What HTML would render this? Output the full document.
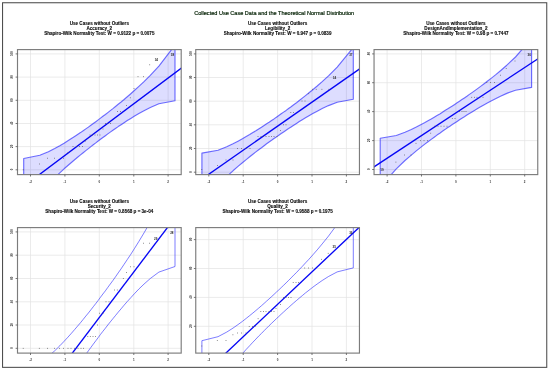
<!DOCTYPE html>
<html><head><meta charset="utf-8"><title>Q-Q plots</title>
<style>
html,body{margin:0;padding:0;background:#fff;}
svg{display:block}
text{font-family:"Liberation Sans",Arial,sans-serif;}
.t{font-size:5.55px;fill:#021f02;stroke:#021f02;stroke-width:0.18;text-anchor:middle;}
.s{font-size:4.58px;font-weight:bold;fill:#0a0a0a;stroke:#0a0a0a;stroke-width:0.1;text-anchor:middle;}
.k{font-size:3px;font-weight:bold;fill:#333;text-anchor:middle;}
.l{font-size:3px;font-weight:bold;fill:#2a2a2a;text-anchor:middle;}
.g{stroke:#e3e3e3;stroke-width:0.7;fill:none;}
.bx{stroke:#7c7c7c;stroke-width:1.15;fill:none;}
.tk{stroke:#555;stroke-width:0.8;fill:none;}
.fit{stroke:#0505f5;stroke-width:1.35;fill:none;}
.pt{fill:#555;}
</style></head><body>
<svg width="550" height="371" viewBox="0 0 550 371">
<rect x="0" y="0" width="550" height="371" fill="#fff"/>
<rect x="2.55" y="2.75" width="544.2" height="364.6" fill="none" stroke="#4c4c4c" stroke-width="1.05"/>
<text class="t" x="274.2" y="14.6">Collected Use Case Data and the Theoretical Normal Distribution</text>

<g>
<clipPath id="c0"><rect x="17.5" y="49.6" width="163.7" height="125.0"/></clipPath>
<text class="s" x="99.3" y="25.3">Use Cases without Outliers</text>
<text class="s" x="99.3" y="30.1">Accuracy_2</text>
<text class="s" x="99.3" y="34.9">Shapiro-Wilk Normality Test: W = 0.9122 p = 0.0075</text>
<g clip-path="url(#c0)">
<line class="g" x1="30.5" y1="49.6" x2="30.5" y2="174.6"/>
<line class="g" x1="64.9" y1="49.6" x2="64.9" y2="174.6"/>
<line class="g" x1="99.3" y1="49.6" x2="99.3" y2="174.6"/>
<line class="g" x1="133.8" y1="49.6" x2="133.8" y2="174.6"/>
<line class="g" x1="168.1" y1="49.6" x2="168.1" y2="174.6"/>
<line class="g" x1="17.5" y1="53.9" x2="181.2" y2="53.9"/>
<line class="g" x1="17.5" y1="77.1" x2="181.2" y2="77.1"/>
<line class="g" x1="17.5" y1="100.3" x2="181.2" y2="100.3"/>
<line class="g" x1="17.5" y1="123.5" x2="181.2" y2="123.5"/>
<line class="g" x1="17.5" y1="146.6" x2="181.2" y2="146.6"/>
<line class="g" x1="17.5" y1="169.8" x2="181.2" y2="169.8"/>
<path d="M23.7,158.5 L39.8,155.3 L48.4,151.7 L54.7,148.5 L59.8,145.7 L64.1,143.2 L67.9,140.8 L71.4,138.6 L74.6,136.5 L77.6,134.5 L80.5,132.6 L83.2,130.7 L85.8,128.9 L88.4,127.1 L90.9,125.3 L93.3,123.5 L95.8,121.7 L98.2,119.9 L100.5,118.1 L102.9,116.3 L105.4,114.5 L107.8,112.6 L110.3,110.6 L112.9,108.6 L115.5,106.5 L118.2,104.3 L121.1,102.0 L124.1,99.5 L127.3,96.7 L130.8,93.7 L134.6,90.3 L138.9,86.4 L144.0,81.6 L150.3,75.4 L158.9,66.1 L175.0,45.1 L175.0,100.7 L158.9,103.8 L150.3,107.5 L144.0,110.7 L138.9,113.5 L134.6,116.0 L130.8,118.4 L127.3,120.6 L124.1,122.7 L121.1,124.7 L118.2,126.6 L115.5,128.5 L112.9,130.3 L110.3,132.1 L107.8,133.9 L105.4,135.7 L102.9,137.5 L100.5,139.3 L98.2,141.0 L95.8,142.9 L93.3,144.7 L90.9,146.6 L88.4,148.6 L85.8,150.6 L83.2,152.7 L80.5,154.9 L77.6,157.2 L74.6,159.7 L71.4,162.5 L67.9,165.5 L64.1,168.8 L59.8,172.8 L54.7,177.6 L48.4,183.8 L39.8,193.1 L23.7,214.1 Z" fill="rgba(0,0,255,0.135)" stroke="rgba(20,20,255,0.6)" stroke-width="1.15" stroke-linejoin="round"/>
<line class="fit" x1="12.5" y1="194.7" x2="186.2" y2="64.5"/>
<rect class="pt" x="22.8" y="169.4" width="0.8" height="0.8"/>
<rect class="pt" x="39.1" y="163.6" width="0.8" height="0.8"/>
<rect class="pt" x="47.1" y="157.8" width="0.8" height="0.8"/>
<rect class="pt" x="54.1" y="157.8" width="0.8" height="0.8"/>
<rect class="pt" x="63.1" y="157.8" width="0.8" height="0.8"/>
<rect class="pt" x="67.6" y="152.0" width="0.8" height="0.8"/>
<rect class="pt" x="72.6" y="146.2" width="0.8" height="0.8"/>
<rect class="pt" x="76.1" y="146.2" width="0.8" height="0.8"/>
<rect class="pt" x="79.1" y="146.2" width="0.8" height="0.8"/>
<rect class="pt" x="82.1" y="146.2" width="0.8" height="0.8"/>
<rect class="pt" x="85.1" y="140.6" width="0.8" height="0.8"/>
<rect class="pt" x="89.6" y="134.6" width="0.8" height="0.8"/>
<rect class="pt" x="92.1" y="134.6" width="0.8" height="0.8"/>
<rect class="pt" x="94.6" y="134.6" width="0.8" height="0.8"/>
<rect class="pt" x="97.1" y="134.6" width="0.8" height="0.8"/>
<rect class="pt" x="99.6" y="134.6" width="0.8" height="0.8"/>
<rect class="pt" x="102.6" y="128.6" width="0.8" height="0.8"/>
<rect class="pt" x="105.1" y="123.1" width="0.8" height="0.8"/>
<rect class="pt" x="107.6" y="123.1" width="0.8" height="0.8"/>
<rect class="pt" x="110.1" y="123.1" width="0.8" height="0.8"/>
<rect class="pt" x="117.2" y="111.0" width="0.8" height="0.8"/>
<rect class="pt" x="120.1" y="111.0" width="0.8" height="0.8"/>
<rect class="pt" x="126.1" y="105.0" width="0.8" height="0.8"/>
<rect class="pt" x="129.9" y="97.4" width="0.8" height="0.8"/>
<rect class="pt" x="133.6" y="88.0" width="0.8" height="0.8"/>
<rect class="pt" x="137.6" y="76.3" width="0.8" height="0.8"/>
<rect class="pt" x="143.1" y="76.3" width="0.8" height="0.8"/>
<rect class="pt" x="149.3" y="64.4" width="0.8" height="0.8"/>
<text class="l" x="156.3" y="61.2">34</text>
<text class="l" x="172.4" y="55.5">38</text>
</g>
<rect class="bx" x="17.5" y="49.6" width="163.7" height="125.0"/>
<line class="tk" x1="30.5" y1="174.6" x2="30.5" y2="176.5"/>
<text class="k" x="30.5" y="182.6">-2</text>
<line class="tk" x1="64.9" y1="174.6" x2="64.9" y2="176.5"/>
<text class="k" x="64.9" y="182.6">-1</text>
<line class="tk" x1="99.3" y1="174.6" x2="99.3" y2="176.5"/>
<text class="k" x="99.3" y="182.6">0</text>
<line class="tk" x1="133.8" y1="174.6" x2="133.8" y2="176.5"/>
<text class="k" x="133.8" y="182.6">1</text>
<line class="tk" x1="168.1" y1="174.6" x2="168.1" y2="176.5"/>
<text class="k" x="168.1" y="182.6">2</text>
<line class="tk" x1="15.6" y1="53.9" x2="17.5" y2="53.9"/>
<text class="k" transform="translate(13.3,53.6) rotate(-90)" x="0" y="0">100</text>
<line class="tk" x1="15.6" y1="77.1" x2="17.5" y2="77.1"/>
<text class="k" transform="translate(13.3,76.8) rotate(-90)" x="0" y="0">80</text>
<line class="tk" x1="15.6" y1="100.3" x2="17.5" y2="100.3"/>
<text class="k" transform="translate(13.3,100.0) rotate(-90)" x="0" y="0">60</text>
<line class="tk" x1="15.6" y1="123.5" x2="17.5" y2="123.5"/>
<text class="k" transform="translate(13.3,123.2) rotate(-90)" x="0" y="0">40</text>
<line class="tk" x1="15.6" y1="146.6" x2="17.5" y2="146.6"/>
<text class="k" transform="translate(13.3,146.3) rotate(-90)" x="0" y="0">20</text>
<line class="tk" x1="15.6" y1="169.8" x2="17.5" y2="169.8"/>
<text class="k" transform="translate(13.3,169.5) rotate(-90)" x="0" y="0">0</text>
</g>
<g>
<clipPath id="c1"><rect x="195.75" y="49.6" width="163.7" height="125.0"/></clipPath>
<text class="s" x="277.6" y="25.3">Use Cases without Outliers</text>
<text class="s" x="277.6" y="30.1">Legibility_2</text>
<text class="s" x="277.6" y="34.9">Shapiro-Wilk Normality Test: W = 0.947 p = 0.0839</text>
<g clip-path="url(#c1)">
<line class="g" x1="208.8" y1="49.6" x2="208.8" y2="174.6"/>
<line class="g" x1="243.2" y1="49.6" x2="243.2" y2="174.6"/>
<line class="g" x1="277.6" y1="49.6" x2="277.6" y2="174.6"/>
<line class="g" x1="312.0" y1="49.6" x2="312.0" y2="174.6"/>
<line class="g" x1="346.4" y1="49.6" x2="346.4" y2="174.6"/>
<line class="g" x1="195.75" y1="53.9" x2="359.45" y2="53.9"/>
<line class="g" x1="195.75" y1="77.5" x2="359.45" y2="77.5"/>
<line class="g" x1="195.75" y1="101.2" x2="359.45" y2="101.2"/>
<line class="g" x1="195.75" y1="124.8" x2="359.45" y2="124.8"/>
<line class="g" x1="195.75" y1="148.5" x2="359.45" y2="148.5"/>
<line class="g" x1="195.75" y1="172.2" x2="359.45" y2="172.2"/>
<path d="M201.9,153.1 L218.0,150.2 L226.7,146.8 L233.0,143.8 L238.0,141.2 L242.4,138.8 L246.2,136.6 L249.7,134.6 L252.9,132.6 L255.9,130.8 L258.7,129.0 L261.5,127.2 L264.1,125.5 L266.6,123.8 L269.1,122.2 L271.6,120.5 L274.0,118.9 L276.4,117.2 L278.8,115.5 L281.2,113.8 L283.6,112.1 L286.1,110.4 L288.6,108.5 L291.1,106.7 L293.7,104.7 L296.5,102.7 L299.3,100.5 L302.3,98.1 L305.5,95.6 L309.0,92.8 L312.8,89.7 L317.2,86.0 L322.2,81.6 L328.5,75.8 L337.2,67.1 L353.3,47.5 L353.3,99.3 L337.2,102.2 L328.5,105.6 L322.2,108.6 L317.2,111.2 L312.8,113.6 L309.0,115.7 L305.5,117.8 L302.3,119.7 L299.3,121.6 L296.5,123.4 L293.7,125.2 L291.1,126.9 L288.6,128.6 L286.1,130.2 L283.6,131.9 L281.2,133.5 L278.8,135.2 L276.4,136.9 L274.0,138.5 L271.6,140.3 L269.1,142.0 L266.6,143.8 L264.1,145.7 L261.5,147.7 L258.7,149.7 L255.9,151.9 L252.9,154.2 L249.7,156.8 L246.2,159.6 L242.4,162.7 L238.0,166.4 L233.0,170.8 L226.7,176.6 L218.0,185.3 L201.9,204.9 Z" fill="rgba(0,0,255,0.135)" stroke="rgba(20,20,255,0.6)" stroke-width="1.15" stroke-linejoin="round"/>
<line class="fit" x1="190.8" y1="186.8" x2="364.4" y2="65.6"/>
<rect class="pt" x="201.4" y="169.1" width="0.8" height="0.8"/>
<rect class="pt" x="217.1" y="165.1" width="0.8" height="0.8"/>
<rect class="pt" x="225.6" y="159.6" width="0.8" height="0.8"/>
<rect class="pt" x="232.6" y="159.6" width="0.8" height="0.8"/>
<rect class="pt" x="237.1" y="148.1" width="0.8" height="0.8"/>
<rect class="pt" x="241.1" y="148.1" width="0.8" height="0.8"/>
<rect class="pt" x="245.6" y="148.1" width="0.8" height="0.8"/>
<rect class="pt" x="249.6" y="148.1" width="0.8" height="0.8"/>
<rect class="pt" x="257.6" y="136.1" width="0.8" height="0.8"/>
<rect class="pt" x="260.6" y="136.1" width="0.8" height="0.8"/>
<rect class="pt" x="263.1" y="136.1" width="0.8" height="0.8"/>
<rect class="pt" x="265.6" y="136.1" width="0.8" height="0.8"/>
<rect class="pt" x="268.6" y="136.1" width="0.8" height="0.8"/>
<rect class="pt" x="271.1" y="136.1" width="0.8" height="0.8"/>
<rect class="pt" x="273.6" y="136.1" width="0.8" height="0.8"/>
<rect class="pt" x="276.6" y="136.1" width="0.8" height="0.8"/>
<rect class="pt" x="280.1" y="130.1" width="0.8" height="0.8"/>
<rect class="pt" x="283.1" y="124.4" width="0.8" height="0.8"/>
<rect class="pt" x="285.6" y="124.4" width="0.8" height="0.8"/>
<rect class="pt" x="290.4" y="112.1" width="0.8" height="0.8"/>
<rect class="pt" x="293.1" y="112.1" width="0.8" height="0.8"/>
<rect class="pt" x="301.6" y="100.6" width="0.8" height="0.8"/>
<rect class="pt" x="304.6" y="100.6" width="0.8" height="0.8"/>
<rect class="pt" x="308.3" y="93.3" width="0.8" height="0.8"/>
<rect class="pt" x="312.1" y="88.9" width="0.8" height="0.8"/>
<rect class="pt" x="315.8" y="88.9" width="0.8" height="0.8"/>
<rect class="pt" x="321.5" y="88.9" width="0.8" height="0.8"/>
<rect class="pt" x="328.5" y="88.9" width="0.8" height="0.8"/>
<text class="l" x="350.8" y="55.5">37</text>
<text class="l" x="334.5" y="79.1">34</text>
</g>
<rect class="bx" x="195.75" y="49.6" width="163.7" height="125.0"/>
<line class="tk" x1="208.8" y1="174.6" x2="208.8" y2="176.5"/>
<text class="k" x="208.8" y="182.6">-2</text>
<line class="tk" x1="243.2" y1="174.6" x2="243.2" y2="176.5"/>
<text class="k" x="243.2" y="182.6">-1</text>
<line class="tk" x1="277.6" y1="174.6" x2="277.6" y2="176.5"/>
<text class="k" x="277.6" y="182.6">0</text>
<line class="tk" x1="312.0" y1="174.6" x2="312.0" y2="176.5"/>
<text class="k" x="312.0" y="182.6">1</text>
<line class="tk" x1="346.4" y1="174.6" x2="346.4" y2="176.5"/>
<text class="k" x="346.4" y="182.6">2</text>
<line class="tk" x1="193.85" y1="53.9" x2="195.75" y2="53.9"/>
<text class="k" transform="translate(191.6,53.6) rotate(-90)" x="0" y="0">100</text>
<line class="tk" x1="193.85" y1="77.5" x2="195.75" y2="77.5"/>
<text class="k" transform="translate(191.6,77.2) rotate(-90)" x="0" y="0">80</text>
<line class="tk" x1="193.85" y1="101.2" x2="195.75" y2="101.2"/>
<text class="k" transform="translate(191.6,100.9) rotate(-90)" x="0" y="0">60</text>
<line class="tk" x1="193.85" y1="124.8" x2="195.75" y2="124.8"/>
<text class="k" transform="translate(191.6,124.5) rotate(-90)" x="0" y="0">40</text>
<line class="tk" x1="193.85" y1="148.5" x2="195.75" y2="148.5"/>
<text class="k" transform="translate(191.6,148.2) rotate(-90)" x="0" y="0">20</text>
<line class="tk" x1="193.85" y1="172.2" x2="195.75" y2="172.2"/>
<text class="k" transform="translate(191.6,171.9) rotate(-90)" x="0" y="0">0</text>
</g>
<g>
<clipPath id="c2"><rect x="374.05" y="49.6" width="163.7" height="125.0"/></clipPath>
<text class="s" x="455.9" y="25.3">Use Cases without Outliers</text>
<text class="s" x="455.9" y="30.1">DesignAndImplementation_2</text>
<text class="s" x="455.9" y="34.9">Shapiro-Wilk Normality Test: W = 0.98 p = 0.7447</text>
<g clip-path="url(#c2)">
<line class="g" x1="387.1" y1="49.6" x2="387.1" y2="174.6"/>
<line class="g" x1="421.5" y1="49.6" x2="421.5" y2="174.6"/>
<line class="g" x1="455.9" y1="49.6" x2="455.9" y2="174.6"/>
<line class="g" x1="490.3" y1="49.6" x2="490.3" y2="174.6"/>
<line class="g" x1="524.7" y1="49.6" x2="524.7" y2="174.6"/>
<line class="g" x1="374.05" y1="53.9" x2="537.75" y2="53.9"/>
<line class="g" x1="374.05" y1="82.7" x2="537.75" y2="82.7"/>
<line class="g" x1="374.05" y1="111.6" x2="537.75" y2="111.6"/>
<line class="g" x1="374.05" y1="140.6" x2="537.75" y2="140.6"/>
<line class="g" x1="374.05" y1="169.5" x2="537.75" y2="169.5"/>
<path d="M380.2,138.3 L396.3,135.5 L405.0,132.3 L411.3,129.5 L416.3,127.1 L420.7,124.8 L424.5,122.8 L428.0,120.8 L431.2,119.0 L434.2,117.2 L437.0,115.5 L439.8,113.9 L442.4,112.2 L444.9,110.6 L447.4,109.1 L449.9,107.5 L452.3,106.0 L454.7,104.4 L457.1,102.8 L459.5,101.2 L461.9,99.6 L464.4,97.9 L466.9,96.2 L469.4,94.4 L472.0,92.6 L474.8,90.6 L477.6,88.6 L480.6,86.4 L483.8,84.0 L487.3,81.3 L491.1,78.4 L495.5,74.9 L500.5,70.7 L506.8,65.2 L515.5,57.0 L531.6,38.5 L531.6,87.4 L515.5,90.2 L506.8,93.4 L500.5,96.2 L495.5,98.7 L491.1,100.9 L487.3,103.0 L483.8,104.9 L480.6,106.8 L477.6,108.6 L474.8,110.3 L472.0,111.9 L469.4,113.5 L466.9,115.1 L464.4,116.7 L461.9,118.2 L459.5,119.8 L457.1,121.4 L454.7,123.0 L452.3,124.6 L449.9,126.2 L447.4,127.8 L444.9,129.6 L442.4,131.3 L439.8,133.2 L437.0,135.1 L434.2,137.2 L431.2,139.4 L428.0,141.8 L424.5,144.4 L420.7,147.4 L416.3,150.9 L411.3,155.1 L405.0,160.5 L396.3,168.8 L380.2,187.2 Z" fill="rgba(0,0,255,0.135)" stroke="rgba(20,20,255,0.6)" stroke-width="1.15" stroke-linejoin="round"/>
<line class="fit" x1="369.1" y1="170.1" x2="542.8" y2="55.6"/>
<rect class="pt" x="395.5" y="161.7" width="0.8" height="0.8"/>
<rect class="pt" x="404.0" y="154.6" width="0.8" height="0.8"/>
<rect class="pt" x="410.6" y="154.6" width="0.8" height="0.8"/>
<rect class="pt" x="415.6" y="142.9" width="0.8" height="0.8"/>
<rect class="pt" x="420.1" y="140.3" width="0.8" height="0.8"/>
<rect class="pt" x="423.6" y="140.3" width="0.8" height="0.8"/>
<rect class="pt" x="427.1" y="140.3" width="0.8" height="0.8"/>
<rect class="pt" x="430.3" y="132.8" width="0.8" height="0.8"/>
<rect class="pt" x="434.3" y="125.8" width="0.8" height="0.8"/>
<rect class="pt" x="437.6" y="125.8" width="0.8" height="0.8"/>
<rect class="pt" x="440.6" y="125.8" width="0.8" height="0.8"/>
<rect class="pt" x="443.6" y="125.8" width="0.8" height="0.8"/>
<rect class="pt" x="446.6" y="125.8" width="0.8" height="0.8"/>
<rect class="pt" x="451.9" y="118.1" width="0.8" height="0.8"/>
<rect class="pt" x="454.6" y="118.1" width="0.8" height="0.8"/>
<rect class="pt" x="459.0" y="111.0" width="0.8" height="0.8"/>
<rect class="pt" x="461.6" y="111.0" width="0.8" height="0.8"/>
<rect class="pt" x="463.6" y="111.0" width="0.8" height="0.8"/>
<rect class="pt" x="465.6" y="111.0" width="0.8" height="0.8"/>
<rect class="pt" x="471.3" y="96.9" width="0.8" height="0.8"/>
<rect class="pt" x="474.1" y="96.9" width="0.8" height="0.8"/>
<rect class="pt" x="476.6" y="96.9" width="0.8" height="0.8"/>
<rect class="pt" x="482.6" y="96.9" width="0.8" height="0.8"/>
<rect class="pt" x="486.4" y="82.0" width="0.8" height="0.8"/>
<rect class="pt" x="490.2" y="82.0" width="0.8" height="0.8"/>
<rect class="pt" x="494.1" y="82.0" width="0.8" height="0.8"/>
<rect class="pt" x="500.0" y="74.8" width="0.8" height="0.8"/>
<rect class="pt" x="505.8" y="68.2" width="0.8" height="0.8"/>
<rect class="pt" x="514.6" y="60.6" width="0.8" height="0.8"/>
<text class="l" x="382.0" y="171.4">19</text>
<text class="l" x="529.2" y="55.5">36</text>
</g>
<rect class="bx" x="374.05" y="49.6" width="163.7" height="125.0"/>
<line class="tk" x1="387.1" y1="174.6" x2="387.1" y2="176.5"/>
<text class="k" x="387.1" y="182.6">-2</text>
<line class="tk" x1="421.5" y1="174.6" x2="421.5" y2="176.5"/>
<text class="k" x="421.5" y="182.6">-1</text>
<line class="tk" x1="455.9" y1="174.6" x2="455.9" y2="176.5"/>
<text class="k" x="455.9" y="182.6">0</text>
<line class="tk" x1="490.3" y1="174.6" x2="490.3" y2="176.5"/>
<text class="k" x="490.3" y="182.6">1</text>
<line class="tk" x1="524.7" y1="174.6" x2="524.7" y2="176.5"/>
<text class="k" x="524.7" y="182.6">2</text>
<line class="tk" x1="372.15000000000003" y1="53.9" x2="374.05" y2="53.9"/>
<text class="k" transform="translate(369.9,53.6) rotate(-90)" x="0" y="0">80</text>
<line class="tk" x1="372.15000000000003" y1="82.7" x2="374.05" y2="82.7"/>
<text class="k" transform="translate(369.9,82.4) rotate(-90)" x="0" y="0">60</text>
<line class="tk" x1="372.15000000000003" y1="111.6" x2="374.05" y2="111.6"/>
<text class="k" transform="translate(369.9,111.3) rotate(-90)" x="0" y="0">40</text>
<line class="tk" x1="372.15000000000003" y1="140.6" x2="374.05" y2="140.6"/>
<text class="k" transform="translate(369.9,140.3) rotate(-90)" x="0" y="0">20</text>
<line class="tk" x1="372.15000000000003" y1="169.5" x2="374.05" y2="169.5"/>
<text class="k" transform="translate(369.9,169.2) rotate(-90)" x="0" y="0">0</text>
</g>
<g>
<clipPath id="c3"><rect x="17.5" y="227.6" width="163.7" height="125.5"/></clipPath>
<text class="s" x="99.3" y="203.3">Use Cases without Outliers</text>
<text class="s" x="99.3" y="208.1">Security_2</text>
<text class="s" x="99.3" y="212.9">Shapiro-Wilk Normality Test: W = 0.8568 p = 3e-04</text>
<g clip-path="url(#c3)">
<line class="g" x1="30.5" y1="227.6" x2="30.5" y2="353.1"/>
<line class="g" x1="64.9" y1="227.6" x2="64.9" y2="353.1"/>
<line class="g" x1="99.3" y1="227.6" x2="99.3" y2="353.1"/>
<line class="g" x1="133.8" y1="227.6" x2="133.8" y2="353.1"/>
<line class="g" x1="168.1" y1="227.6" x2="168.1" y2="353.1"/>
<line class="g" x1="17.5" y1="231.9" x2="181.2" y2="231.9"/>
<line class="g" x1="17.5" y1="255.2" x2="181.2" y2="255.2"/>
<line class="g" x1="17.5" y1="278.5" x2="181.2" y2="278.5"/>
<line class="g" x1="17.5" y1="301.8" x2="181.2" y2="301.8"/>
<line class="g" x1="17.5" y1="325.0" x2="181.2" y2="325.0"/>
<line class="g" x1="17.5" y1="348.3" x2="181.2" y2="348.3"/>
<path d="M23.7,368.4 L39.8,362.8 L48.4,356.4 L54.7,350.8 L59.8,345.8 L64.1,341.3 L67.9,337.2 L71.4,333.3 L74.6,329.6 L77.6,326.1 L80.5,322.7 L83.2,319.4 L85.8,316.1 L88.4,313.0 L90.9,309.8 L93.3,306.7 L95.8,303.5 L98.2,300.4 L100.5,297.2 L102.9,294.0 L105.4,290.8 L107.8,287.4 L110.3,284.0 L112.9,280.5 L115.5,276.8 L118.2,272.9 L121.1,268.8 L124.1,264.3 L127.3,259.5 L130.8,254.3 L134.6,248.3 L138.9,241.4 L144.0,232.9 L150.3,222.0 L158.9,205.5 L175.0,168.5 L175.0,266.5 L158.9,272.1 L150.3,278.5 L144.0,284.1 L138.9,289.0 L134.6,293.5 L130.8,297.7 L127.3,301.5 L124.1,305.2 L121.1,308.8 L118.2,312.2 L115.5,315.5 L112.9,318.7 L110.3,321.9 L107.8,325.0 L105.4,328.2 L102.9,331.3 L100.5,334.4 L98.2,337.6 L95.8,340.8 L93.3,344.1 L90.9,347.4 L88.4,350.8 L85.8,354.4 L83.2,358.1 L80.5,362.0 L77.6,366.1 L74.6,370.5 L71.4,375.3 L67.9,380.6 L64.1,386.6 L59.8,393.5 L54.7,401.9 L48.4,412.9 L39.8,429.3 L23.7,466.3 Z" fill="none" stroke="rgba(20,20,255,0.55)" stroke-width="1.0" stroke-linejoin="round"/>
<line class="fit" x1="12.5" y1="432.1" x2="186.2" y2="202.8"/>
<rect class="pt" x="22.8" y="347.9" width="0.8" height="0.8"/>
<rect class="pt" x="38.9" y="347.9" width="0.8" height="0.8"/>
<rect class="pt" x="47.0" y="347.9" width="0.8" height="0.8"/>
<rect class="pt" x="54.1" y="347.9" width="0.8" height="0.8"/>
<rect class="pt" x="59.1" y="347.9" width="0.8" height="0.8"/>
<rect class="pt" x="63.2" y="347.9" width="0.8" height="0.8"/>
<rect class="pt" x="67.6" y="347.9" width="0.8" height="0.8"/>
<rect class="pt" x="70.6" y="347.9" width="0.8" height="0.8"/>
<rect class="pt" x="74.1" y="347.9" width="0.8" height="0.8"/>
<rect class="pt" x="77.6" y="347.9" width="0.8" height="0.8"/>
<rect class="pt" x="80.6" y="347.9" width="0.8" height="0.8"/>
<rect class="pt" x="83.1" y="347.9" width="0.8" height="0.8"/>
<rect class="pt" x="87.4" y="336.2" width="0.8" height="0.8"/>
<rect class="pt" x="89.9" y="336.2" width="0.8" height="0.8"/>
<rect class="pt" x="92.6" y="336.2" width="0.8" height="0.8"/>
<rect class="pt" x="95.1" y="336.2" width="0.8" height="0.8"/>
<rect class="pt" x="97.1" y="324.6" width="0.8" height="0.8"/>
<rect class="pt" x="99.1" y="312.8" width="0.8" height="0.8"/>
<rect class="pt" x="102.6" y="312.8" width="0.8" height="0.8"/>
<rect class="pt" x="105.6" y="301.4" width="0.8" height="0.8"/>
<rect class="pt" x="108.6" y="301.4" width="0.8" height="0.8"/>
<rect class="pt" x="114.2" y="289.6" width="0.8" height="0.8"/>
<rect class="pt" x="116.9" y="289.6" width="0.8" height="0.8"/>
<rect class="pt" x="122.9" y="278.1" width="0.8" height="0.8"/>
<rect class="pt" x="126.0" y="272.1" width="0.8" height="0.8"/>
<rect class="pt" x="130.0" y="266.4" width="0.8" height="0.8"/>
<rect class="pt" x="133.6" y="266.4" width="0.8" height="0.8"/>
<rect class="pt" x="143.1" y="242.8" width="0.8" height="0.8"/>
<rect class="pt" x="149.2" y="242.8" width="0.8" height="0.8"/>
<text class="l" x="155.7" y="239.5">29</text>
<text class="l" x="171.8" y="234.0">28</text>
</g>
<rect class="bx" x="17.5" y="227.6" width="163.7" height="125.5"/>
<line class="tk" x1="30.5" y1="353.1" x2="30.5" y2="355.0"/>
<text class="k" x="30.5" y="361.1">-2</text>
<line class="tk" x1="64.9" y1="353.1" x2="64.9" y2="355.0"/>
<text class="k" x="64.9" y="361.1">-1</text>
<line class="tk" x1="99.3" y1="353.1" x2="99.3" y2="355.0"/>
<text class="k" x="99.3" y="361.1">0</text>
<line class="tk" x1="133.8" y1="353.1" x2="133.8" y2="355.0"/>
<text class="k" x="133.8" y="361.1">1</text>
<line class="tk" x1="168.1" y1="353.1" x2="168.1" y2="355.0"/>
<text class="k" x="168.1" y="361.1">2</text>
<line class="tk" x1="15.6" y1="231.9" x2="17.5" y2="231.9"/>
<text class="k" transform="translate(13.3,231.6) rotate(-90)" x="0" y="0">100</text>
<line class="tk" x1="15.6" y1="255.2" x2="17.5" y2="255.2"/>
<text class="k" transform="translate(13.3,254.9) rotate(-90)" x="0" y="0">80</text>
<line class="tk" x1="15.6" y1="278.5" x2="17.5" y2="278.5"/>
<text class="k" transform="translate(13.3,278.2) rotate(-90)" x="0" y="0">60</text>
<line class="tk" x1="15.6" y1="301.8" x2="17.5" y2="301.8"/>
<text class="k" transform="translate(13.3,301.5) rotate(-90)" x="0" y="0">40</text>
<line class="tk" x1="15.6" y1="325.0" x2="17.5" y2="325.0"/>
<text class="k" transform="translate(13.3,324.7) rotate(-90)" x="0" y="0">20</text>
<line class="tk" x1="15.6" y1="348.3" x2="17.5" y2="348.3"/>
<text class="k" transform="translate(13.3,348.0) rotate(-90)" x="0" y="0">0</text>
</g>
<g>
<clipPath id="c4"><rect x="195.75" y="227.6" width="163.7" height="125.5"/></clipPath>
<text class="s" x="277.6" y="203.3">Use Cases without Outliers</text>
<text class="s" x="277.6" y="208.1">Quality_2</text>
<text class="s" x="277.6" y="212.9">Shapiro-Wilk Normality Test: W = 0.9588 p = 0.1975</text>
<g clip-path="url(#c4)">
<line class="g" x1="208.8" y1="227.6" x2="208.8" y2="353.1"/>
<line class="g" x1="243.2" y1="227.6" x2="243.2" y2="353.1"/>
<line class="g" x1="277.6" y1="227.6" x2="277.6" y2="353.1"/>
<line class="g" x1="312.0" y1="227.6" x2="312.0" y2="353.1"/>
<line class="g" x1="346.4" y1="227.6" x2="346.4" y2="353.1"/>
<line class="g" x1="195.75" y1="239.6" x2="359.45" y2="239.6"/>
<line class="g" x1="195.75" y1="268.5" x2="359.45" y2="268.5"/>
<line class="g" x1="195.75" y1="297.4" x2="359.45" y2="297.4"/>
<line class="g" x1="195.75" y1="326.3" x2="359.45" y2="326.3"/>
<path d="M201.9,340.7 L218.0,336.7 L226.7,332.1 L233.0,328.1 L238.0,324.6 L242.4,321.4 L246.2,318.4 L249.7,315.6 L252.9,313.0 L255.9,310.5 L258.7,308.1 L261.5,305.7 L264.1,303.4 L266.6,301.1 L269.1,298.9 L271.6,296.6 L274.0,294.4 L276.4,292.1 L278.8,289.9 L281.2,287.6 L283.6,285.3 L286.1,282.9 L288.6,280.4 L291.1,277.9 L293.7,275.2 L296.5,272.5 L299.3,269.5 L302.3,266.4 L305.5,262.9 L309.0,259.2 L312.8,254.9 L317.2,249.9 L322.2,243.9 L328.5,236.1 L337.2,224.3 L353.3,197.9 L353.3,267.9 L337.2,271.9 L328.5,276.5 L322.2,280.5 L317.2,284.0 L312.8,287.2 L309.0,290.2 L305.5,292.9 L302.3,295.6 L299.3,298.1 L296.5,300.5 L293.7,302.9 L291.1,305.2 L288.6,307.5 L286.1,309.7 L283.6,312.0 L281.2,314.2 L278.8,316.5 L276.4,318.7 L274.0,321.0 L271.6,323.3 L269.1,325.7 L266.6,328.2 L264.1,330.7 L261.5,333.4 L258.7,336.1 L255.9,339.1 L252.9,342.2 L249.7,345.7 L246.2,349.4 L242.4,353.7 L238.0,358.7 L233.0,364.7 L226.7,372.5 L218.0,384.3 L201.9,410.7 Z" fill="none" stroke="rgba(20,20,255,0.55)" stroke-width="1.0" stroke-linejoin="round"/>
<line class="fit" x1="190.8" y1="386.2" x2="364.4" y2="222.4"/>
<rect class="pt" x="201.4" y="345.6" width="0.8" height="0.8"/>
<rect class="pt" x="216.9" y="340.1" width="0.8" height="0.8"/>
<rect class="pt" x="225.6" y="340.1" width="0.8" height="0.8"/>
<rect class="pt" x="232.5" y="334.4" width="0.8" height="0.8"/>
<rect class="pt" x="237.1" y="332.6" width="0.8" height="0.8"/>
<rect class="pt" x="241.1" y="332.6" width="0.8" height="0.8"/>
<rect class="pt" x="245.6" y="332.6" width="0.8" height="0.8"/>
<rect class="pt" x="248.8" y="326.0" width="0.8" height="0.8"/>
<rect class="pt" x="252.1" y="326.0" width="0.8" height="0.8"/>
<rect class="pt" x="254.6" y="326.0" width="0.8" height="0.8"/>
<rect class="pt" x="257.7" y="318.3" width="0.8" height="0.8"/>
<rect class="pt" x="260.4" y="311.2" width="0.8" height="0.8"/>
<rect class="pt" x="263.1" y="311.2" width="0.8" height="0.8"/>
<rect class="pt" x="265.6" y="311.2" width="0.8" height="0.8"/>
<rect class="pt" x="268.6" y="311.2" width="0.8" height="0.8"/>
<rect class="pt" x="271.1" y="311.2" width="0.8" height="0.8"/>
<rect class="pt" x="273.6" y="311.2" width="0.8" height="0.8"/>
<rect class="pt" x="275.6" y="308.2" width="0.8" height="0.8"/>
<rect class="pt" x="280.2" y="304.1" width="0.8" height="0.8"/>
<rect class="pt" x="283.0" y="297.1" width="0.8" height="0.8"/>
<rect class="pt" x="285.6" y="297.1" width="0.8" height="0.8"/>
<rect class="pt" x="288.1" y="297.1" width="0.8" height="0.8"/>
<rect class="pt" x="290.6" y="297.1" width="0.8" height="0.8"/>
<rect class="pt" x="292.8" y="282.2" width="0.8" height="0.8"/>
<rect class="pt" x="295.6" y="282.2" width="0.8" height="0.8"/>
<rect class="pt" x="298.1" y="282.2" width="0.8" height="0.8"/>
<rect class="pt" x="304.3" y="267.6" width="0.8" height="0.8"/>
<rect class="pt" x="308.1" y="267.6" width="0.8" height="0.8"/>
<rect class="pt" x="312.0" y="267.6" width="0.8" height="0.8"/>
<rect class="pt" x="321.1" y="258.9" width="0.8" height="0.8"/>
<rect class="pt" x="327.8" y="252.9" width="0.8" height="0.8"/>
<text class="l" x="350.8" y="234.0">36</text>
<text class="l" x="334.2" y="248.1">35</text>
</g>
<rect class="bx" x="195.75" y="227.6" width="163.7" height="125.5"/>
<line class="tk" x1="208.8" y1="353.1" x2="208.8" y2="355.0"/>
<text class="k" x="208.8" y="361.1">-2</text>
<line class="tk" x1="243.2" y1="353.1" x2="243.2" y2="355.0"/>
<text class="k" x="243.2" y="361.1">-1</text>
<line class="tk" x1="277.6" y1="353.1" x2="277.6" y2="355.0"/>
<text class="k" x="277.6" y="361.1">0</text>
<line class="tk" x1="312.0" y1="353.1" x2="312.0" y2="355.0"/>
<text class="k" x="312.0" y="361.1">1</text>
<line class="tk" x1="346.4" y1="353.1" x2="346.4" y2="355.0"/>
<text class="k" x="346.4" y="361.1">2</text>
<line class="tk" x1="193.85" y1="239.6" x2="195.75" y2="239.6"/>
<text class="k" transform="translate(191.6,239.3) rotate(-90)" x="0" y="0">80</text>
<line class="tk" x1="193.85" y1="268.5" x2="195.75" y2="268.5"/>
<text class="k" transform="translate(191.6,268.2) rotate(-90)" x="0" y="0">60</text>
<line class="tk" x1="193.85" y1="297.4" x2="195.75" y2="297.4"/>
<text class="k" transform="translate(191.6,297.1) rotate(-90)" x="0" y="0">40</text>
<line class="tk" x1="193.85" y1="326.3" x2="195.75" y2="326.3"/>
<text class="k" transform="translate(191.6,326.0) rotate(-90)" x="0" y="0">20</text>
</g>
</svg></body></html>
